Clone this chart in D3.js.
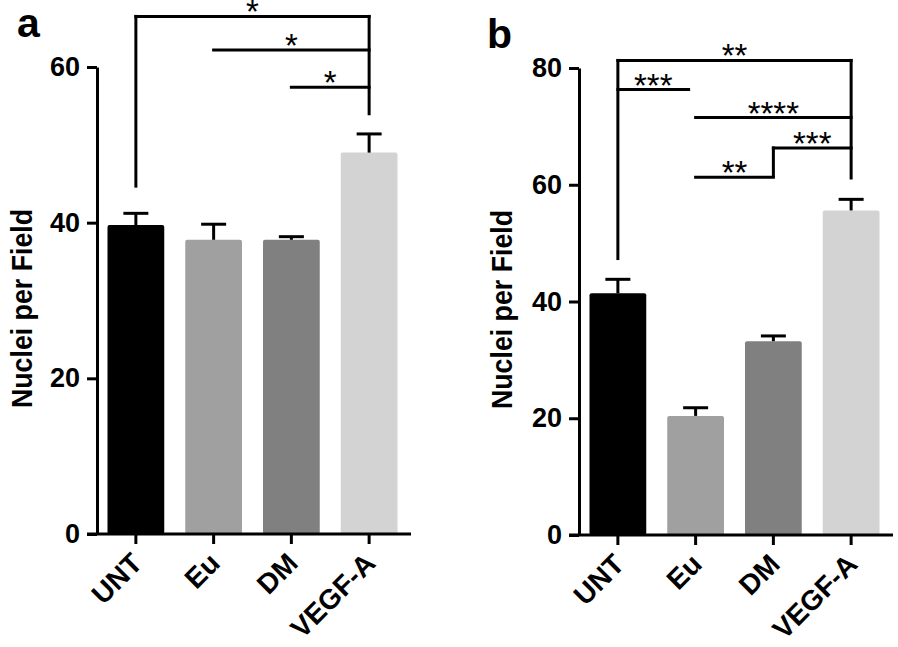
<!DOCTYPE html>
<html><head><meta charset="utf-8">
<script src="https://cdn.jsdelivr.net/npm/d3@7"></script>
<style>
html,body{margin:0;padding:0;background:#fff;}
svg{display:block;font-family:"Liberation Sans",Arial,sans-serif;font-weight:bold;}
.tick text{font-family:"Liberation Sans",Arial,sans-serif;font-weight:bold;font-size:27px;fill:#000;}
</style></head>
<body>
<svg id="chart" width="898" height="647"></svg>
<script>
const categories = ["UNT", "Eu", "DM", "VEGF-A"];
const colors = ["#000000", "#a0a0a0", "#808080", "#d3d3d3"];
const meanA = [39.7, 37.8, 37.8, 49.0];
const errA = [1.5, 2.0, 0.4, 2.4];
const meanB = [41.4, 20.4, 33.2, 55.6];
const errB = [2.4, 1.4, 0.9, 1.9];
const ticksA = [0, 20, 40, 60];
const ticksB = [0, 20, 40, 60, 80];
// significance brackets: horizontal segments [from, to, y, label]
const sigA = [["UNT", "VEGF-A", 66.5, "*"], ["Eu", "VEGF-A", 62.2, "*"], ["DM", "VEGF-A", 57.4, "*"]];
// vertical legs: [category, yTop, yBottom]
const legsA = [["UNT", 66.5, 44.5], ["VEGF-A", 66.5, 53.8]];
const sigB = [["UNT", "VEGF-A", 81.3, "**"], ["UNT", "Eu", 76.3, "***"], ["Eu", "VEGF-A", 71.5, "****"],
              ["DM", "VEGF-A", 66.3, "***"], ["Eu", "DM", 61.3, "**"]];
const legsB = [["UNT", 81.3, 47.1], ["VEGF-A", 81.3, 60.9], ["DM", 66.3, 61.3]];

const svg = d3.select("#chart");

function panel(opt) {
  const g = svg.append("g");
  const x = d3.scaleBand().domain(categories).range([opt.x0, opt.x1]).paddingInner(0.27).paddingOuter(0.135);
  const y = d3.scaleLinear().domain([0, opt.ymax]).range([opt.y0, opt.y1]);
  const cx = c => x(c) + x.bandwidth() / 2;

  // bars
  g.selectAll("rect.bar").data(opt.mean).join("rect")
    .attr("x", (d, i) => x(categories[i]))
    .attr("width", x.bandwidth())
    .attr("y", d => y(d))
    .attr("height", d => y(0) - y(d))
    .attr("rx", 2)
    .attr("fill", (d, i) => colors[i]);

  // error bars
  const eb = g.append("g").attr("stroke", "#000").attr("stroke-width", 3);
  opt.mean.forEach((m, i) => {
    const c = cx(categories[i]);
    eb.append("line").attr("x1", c).attr("x2", c).attr("y1", y(m)).attr("y2", y(m + opt.err[i]));
    eb.append("line").attr("x1", c - 12.5).attr("x2", c + 12.5).attr("y1", y(m + opt.err[i])).attr("y2", y(m + opt.err[i]));
  });

  // y axis
  const ya = g.append("g").attr("transform", `translate(${opt.x0},0)`)
    .call(d3.axisLeft(y).tickValues(opt.ticks).tickSize(10).tickPadding(7).tickSizeOuter(0));
  ya.attr("font-size", null).attr("font-family", null);
  ya.select(".domain").attr("stroke-width", 3);
  ya.selectAll(".tick line").attr("stroke-width", 3);

  // x axis
  const xa = g.append("g").attr("transform", `translate(0,${opt.y0})`)
    .call(d3.axisBottom(x).tickSize(10).tickSizeOuter(0).tickFormat(""));
  xa.select(".domain").attr("d", `M${opt.x0 - 10},0H${opt.x1 + 3}`).attr("stroke-width", 3);
  xa.selectAll(".tick line").attr("stroke-width", 3);
  categories.forEach(c => {
    g.append("text").attr("text-anchor", "end")
      .attr("transform", `translate(${cx(c) + 8},${opt.y0 + 31}) rotate(-45)`)
      .attr("font-size", 28).text(c);
  });

  // y label
  g.append("text").attr("text-anchor", "middle")
    .attr("transform", `translate(${opt.labelX},${(opt.y0 + opt.y1) / 2 + 8}) rotate(-90)`)
    .attr("font-size", 29).attr("textLength", 199).attr("lengthAdjust", "spacingAndGlyphs")
    .text("Nuclei per Field");

  // panel letter
  g.append("text").attr("x", opt.letterX).attr("y", opt.letterY).attr("font-size", 41).text(opt.letter);

  // brackets
  const br = g.append("g").attr("stroke", "#000").attr("stroke-width", 3).attr("fill", "none");
  opt.sig.forEach(s => {
    let xa1 = cx(s[0]), xa2 = cx(s[1]);
    if (opt.shortEnd && s[0] === "UNT" && s[1] === "Eu") xa2 -= 7;
    br.append("line").attr("x1", xa1 - 1.5).attr("x2", xa2 + 1.5).attr("y1", y(s[2])).attr("y2", y(s[2]));
    g.append("text").attr("x", (xa1 + xa2) / 2).attr("y", y(s[2]) + 7)
      .attr("text-anchor", "middle").attr("font-size", 33).attr("font-weight", "normal").text(s[3]);
  });
  opt.legs.forEach(l => {
    br.append("line").attr("x1", cx(l[0])).attr("x2", cx(l[0])).attr("y1", y(l[1]) - 1.5).attr("y2", y(l[2]));
  });
}

panel({x0: 97, x1: 408, y0: 534, y1: 67, ymax: 60, mean: meanA, err: errA, ticks: ticksA,
       sig: sigA, legs: legsA, labelX: 32, letter: "a", letterX: 17, letterY: 37});
panel({x0: 579, x1: 890, y0: 535, y1: 68, ymax: 80, mean: meanB, err: errB, ticks: ticksB,
       sig: sigB, legs: legsB, labelX: 512, letter: "b", letterX: 487, letterY: 48, shortEnd: true});
</script>
</body></html>
